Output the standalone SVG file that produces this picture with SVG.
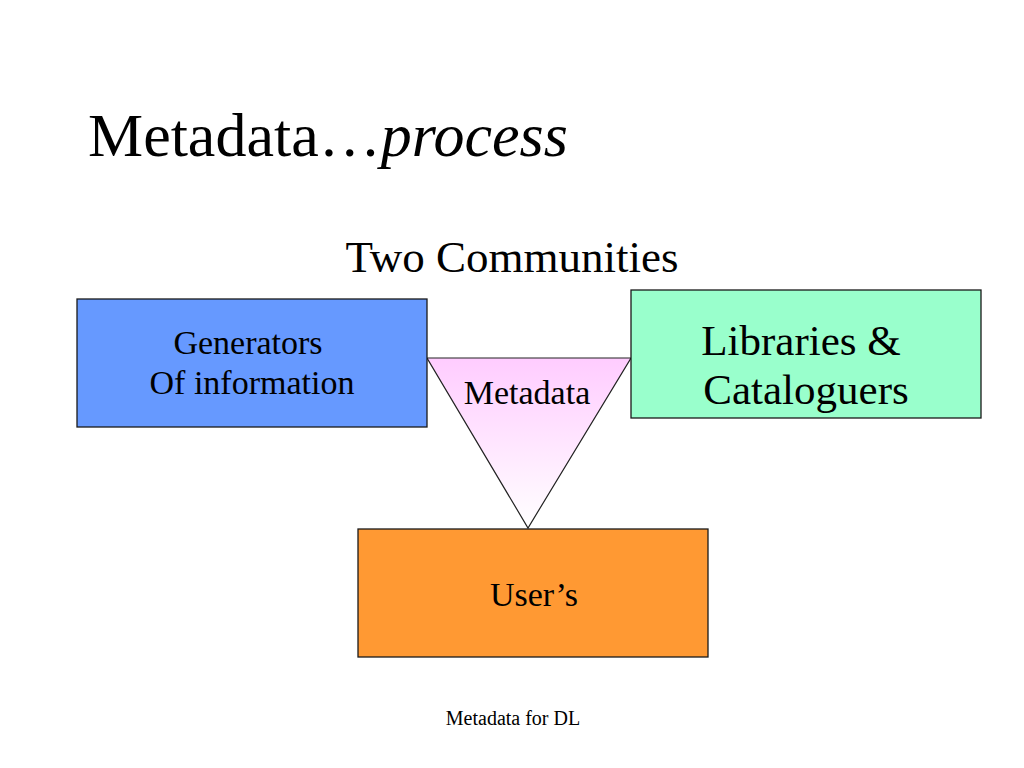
<svg xmlns="http://www.w3.org/2000/svg" width="1024" height="768" viewBox="0 0 1024 768">
<style>
text{font-family:"Liberation Serif","Times New Roman",serif;fill:#000}
.box{stroke:#1a1a1a;stroke-width:1.3}
</style>
<defs>
<linearGradient id="pink" x1="0" y1="0" x2="0" y2="1">
<stop offset="0" stop-color="#ffccff"/>
<stop offset="1" stop-color="#ffffff"/>
</linearGradient>
</defs>
<rect width="1024" height="768" fill="#fff"/>
<text x="88" y="156" font-size="62">Metadata…<tspan font-style="italic">process</tspan></text>
<text x="512" y="272" font-size="45" text-anchor="middle">Two Communities</text>
<g id="metadata">
<polygon points="427,358 631,358 528,528" fill="url(#pink)" stroke="#222" stroke-width="1.2"/>
<text x="527" y="404" font-size="34" text-anchor="middle">Metadata</text>
</g>
<g id="generators">
<rect class="box" x="77" y="299" width="350" height="128" fill="#6699ff"/>
<text x="248" y="354" font-size="34" text-anchor="middle">Generators</text>
<text x="252" y="394" font-size="34" text-anchor="middle">Of information</text>
</g>
<g id="libraries">
<rect class="box" x="631" y="290" width="350" height="128" fill="#99ffcc"/>
<text x="801" y="355" font-size="43" text-anchor="middle">Libraries &amp;</text>
<text x="806" y="404" font-size="43" text-anchor="middle">Cataloguers</text>
</g>
<g id="users">
<rect class="box" x="358" y="529" width="350" height="128" fill="#ff9933"/>
<text x="534" y="606" font-size="34" text-anchor="middle">User’s</text>
</g>
<g id="connectors"></g>
<text x="513" y="725" font-size="20" text-anchor="middle">Metadata for DL</text>
</svg>
